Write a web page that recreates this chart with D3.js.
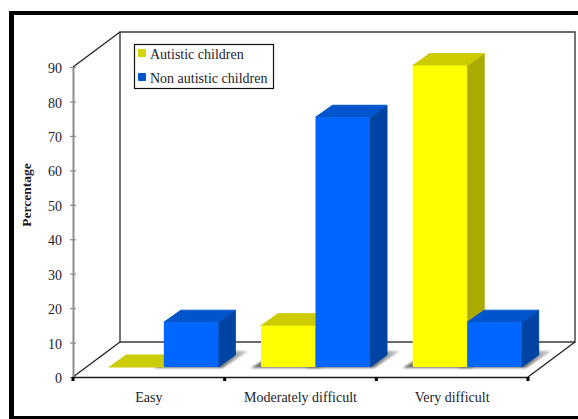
<!DOCTYPE html>
<html>
<head>
<meta charset="utf-8">
<script src="https://cdn.jsdelivr.net/npm/d3@7"></script>
<style>
html,body{margin:0;padding:0;background:#fff;overflow:hidden}
text{font-family:"Liberation Serif",serif;font-size:14px;fill:#1c1c2a}
</style>
</head>
<body>
<svg id="chart" width="578" height="419"></svg>
<script>
const categories = ["Easy", "Moderately difficult", "Very difficult"];
const autistic = [0, 12, 87.5];
const nonAutistic = [13, 72.5, 13];
const seriesNames = ["Autistic children", "Non autistic children"];
const yTicks = [0, 10, 20, 30, 40, 50, 60, 70, 80, 90];

const svg = d3.select("#chart");
const W = 578, H = 419;

// Plot geometry
const left = 73, right = 528, bottom = 377, top90 = 67;
const wallX = 47, wallY = 35;       // depth of the back wall
const barDepthX = 17, barDepthY = 12; // depth of each 3D bar
const baseLift = 10;                // bars stand this far inside the floor

const x = d3.scaleBand().domain(categories).range([left, right]);
const y = d3.scaleLinear().domain([0, 90]).range([bottom, top90]);
const series = d3.scaleBand().domain(seriesNames).range([0, 109]);

const palette = {
  [seriesNames[0]]: {front: "#ffff00", top: "#cccc00", side: "#aaaa00", key: "#d4d400"},
  [seriesNames[1]]: {front: "#0066ff", top: "#0055cc", side: "#0044a3", key: "#0055cc"}
};

const defs = svg.append("defs");
defs.append("filter").attr("id", "soft")
  .attr("x", "-20%").attr("y", "-40%").attr("width", "140%").attr("height", "180%")
  .append("feGaussianBlur").attr("stdDeviation", 0.8);
const fade = defs.append("linearGradient").attr("id", "shadowFade")
  .attr("x1", 0).attr("x2", 1).attr("y1", 0).attr("y2", 0);
fade.append("stop").attr("offset", "0%").attr("stop-color", "#707070");
fade.append("stop").attr("offset", "72%").attr("stop-color", "#707070");
fade.append("stop").attr("offset", "100%").attr("stop-color", "#d6d6d6");

// Outer frame: heavy left, top and bottom rules
svg.append("rect").attr("x", 9).attr("y", 11).attr("width", 5).attr("height", 408).attr("fill", "#000");
svg.append("rect").attr("x", 9).attr("y", 11).attr("width", W - 9).attr("height", 4).attr("fill", "#000");
svg.append("rect").attr("x", 9).attr("y", 416).attr("width", W - 9).attr("height", 3).attr("fill", "#000");

// Back wall and floor outline
const wallTop = y(90) - wallY, wallBottom = y(0) - wallY;
const line = (a, b, c, d, col, w) => svg.append("line")
  .attr("x1", a).attr("y1", b).attr("x2", c).attr("y2", d)
  .attr("stroke", col).attr("stroke-width", w);
svg.append("path")
  .attr("d", d3.line()([[left + wallX, wallBottom], [left + wallX, wallTop], [right + wallX, wallTop], [right + wallX, wallBottom], [left + wallX, wallBottom]]))
  .attr("fill", "none").attr("stroke", "#3a3a3a").attr("stroke-width", 1.4);
line(left, y(90), left + wallX, wallTop, "#222", 1.3);
line(left, y(0), left + wallX, wallBottom, "#222", 1.3);
line(right, y(0), right + wallX, wallBottom, "#222", 1.3);

// Bars, yellow before blue inside each group
const barH = v => y(0) - y(v);
const baseY = y(0) - baseLift;
const groupX = c => x(c) + x.bandwidth() / 2 + 15 - 54.5;
const rows = categories.flatMap((c, i) => [
  {c, s: seriesNames[0], v: autistic[i]},
  {c, s: seriesNames[1], v: nonAutistic[i]}
]);

const shadowLayer = svg.append("g");
shadowLayer.selectAll("polygon").data(rows.filter(d => d.v > 0)).join("polygon")
  .attr("points", d => {
    const x0 = groupX(d.c) + series(d.s), x1 = x0 + series.bandwidth();
    return [[x0 - 10, baseY + 1], [x1 + 4, baseY + 1],
            [x1 + barDepthX + 13, baseY - barDepthY - 4], [x0 + barDepthX, baseY - barDepthY - 4]].join(" ");
  })
  .attr("fill", "url(#shadowFade)").attr("filter", "url(#soft)");

const bars = svg.append("g").selectAll("g").data(rows).join("g");
const rounded = sel => sel.attr("stroke-linejoin", "round").attr("stroke-width", 1);

bars.append("polygon").call(rounded)
  .attr("points", d => {
    const x1 = groupX(d.c) + series(d.s) + series.bandwidth(), t = baseY - barH(d.v);
    return [[x1, t], [x1 + barDepthX, t - barDepthY], [x1 + barDepthX, baseY - barDepthY], [x1, baseY]].join(" ");
  })
  .attr("fill", d => palette[d.s].side).attr("stroke", d => palette[d.s].side);

bars.append("polygon").call(rounded)
  .attr("points", d => {
    const x0 = groupX(d.c) + series(d.s), x1 = x0 + series.bandwidth(), t = baseY - barH(d.v);
    return [[x0, t], [x1, t], [x1 + barDepthX, t - barDepthY], [x0 + barDepthX, t - barDepthY]].join(" ");
  })
  .attr("fill", d => palette[d.s].top).attr("stroke", d => palette[d.s].top);

bars.filter(d => d.v > 0).append("rect")
  .attr("x", d => groupX(d.c) + series(d.s))
  .attr("y", d => baseY - barH(d.v))
  .attr("width", series.bandwidth())
  .attr("height", d => barH(d.v))
  .attr("rx", 1.5)
  .attr("fill", d => palette[d.s].front);

// Value axis
const yAxis = svg.append("g").attr("transform", `translate(${left},0)`)
  .call(d3.axisLeft(y).tickValues(yTicks).tickSize(3).tickPadding(4).tickSizeOuter(0));
yAxis.select(".domain").attr("stroke", "#8c8c8c").attr("stroke-width", 2);
yAxis.selectAll(".tick line").attr("stroke", "#8c8c8c").attr("stroke-width", 1.2);
yAxis.selectAll(".tick line").attr("x2", 3).attr("x1", -3);
yAxis.selectAll("text").style("font-family", '"Liberation Serif",serif').style("font-size", "14px").attr("fill", "#1c1c2a").attr("x", -11).attr("dy", "0.4em");

// Category axis
line(left, y(0) + 0.5, right, y(0) + 0.5, "#1a1a1a", 1.6);
const edges = [left].concat(categories.map(c => x(c) + x.bandwidth()));
svg.append("g").selectAll("rect").data(edges).join("rect")
  .attr("x", d => d - 1.5).attr("y", y(0)).attr("width", 3).attr("height", 4).attr("fill", "#000");
svg.append("g").selectAll("text").data(categories).join("text")
  .attr("x", c => x(c) + x.bandwidth() / 2).attr("y", 402)
  .attr("text-anchor", "middle").text(c => c);

// Axis title
svg.append("text").attr("transform", "translate(31,195) rotate(-90)")
  .attr("text-anchor", "middle").style("font-weight", "bold").style("font-size", "13.5px").text("Percentage");

// Legend
svg.append("rect").attr("x", 134.5).attr("y", 44.5).attr("width", 139).attr("height", 44)
  .attr("fill", "#fff").attr("stroke", "#111").attr("stroke-width", 1.2);
const legend = svg.append("g").selectAll("g").data(seriesNames).join("g")
  .attr("transform", (d, i) => `translate(138,${49 + i * 24})`);
legend.append("rect").attr("width", 8).attr("height", 8).attr("rx", 1)
  .attr("fill", d => palette[d].key);
legend.append("text").attr("x", 12).attr("y", 10).text(d => d);
</script>
</body>
</html>
